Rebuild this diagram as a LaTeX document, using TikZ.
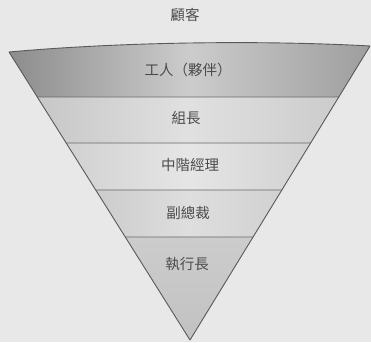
\documentclass[tikz,border=0pt]{standalone}
\usepackage{fontspec}
\newfontfamily\cjk{Noto Sans CJK TC}
\usetikzlibrary{calc}
\begin{document}
\begin{tikzpicture}[x=1pt,y=-1pt,
  lbl/.style={font=\cjk\fontsize{14.5}{16}\selectfont, text=black!70},
  edge/.style={draw=black!65, line width=0.9pt},
  divider/.style={draw=black!60, line width=0.8pt}]
\fill[black!9] (0,0) rectangle (371,342);
\useasboundingbox (0,0) rectangle (371,342);
\coordinate (TL) at (9,52);
\coordinate (TR) at (370,46);
\coordinate (A) at (190,340);
% divider points
\foreach \n/\y in {1/97,2/143,3/190,4/237}{
  \coordinate (L\n) at ($(TL)!{(\y-52)/288}!(A)$);
  \coordinate (R\n) at ($(TR)!{(\y-46)/294}!(A)$);
}
% bands
\shade[left color=black!45, right color=black!38, middle color=black!20]
  (TL) .. controls (120,42) and (260,40) .. (TR) -- (R1) -- (L1) -- cycle;
\shade[left color=black!22, right color=black!20, middle color=black!12]
  (L1) -- (R1) -- (R2) -- (L2) -- cycle;
\shade[left color=black!18, right color=black!18, middle color=black!10]
  (L2) -- (R2) -- (R3) -- (L3) -- cycle;
\shade[left color=black!20, right color=black!18, middle color=black!13]
  (L3) -- (R3) -- (R4) -- (L4) -- cycle;
\shade[top color=black!20, bottom color=black!24]
  (L4) -- (R4) -- (A) -- cycle;
% dividers
\foreach \n in {1,...,4}{ \draw[divider] (L\n) -- (R\n); }
% outline
\draw[edge, line join=round] (TL) .. controls (120,42) and (260,40) .. (TR) -- (A) -- cycle;
% labels
\node[lbl] (customer) at (185,15) {顧客};
\node[lbl] (workers) at (188,70) {工人（夥伴）};
\node[lbl] (leader) at (186,118) {組長};
\node[lbl] (middle) at (190,165) {中階經理};
\node[lbl] (vp) at (188,213) {副總裁};
\node[lbl] (ceo) at (187,264) {執行長};
\end{tikzpicture}
\end{document}
